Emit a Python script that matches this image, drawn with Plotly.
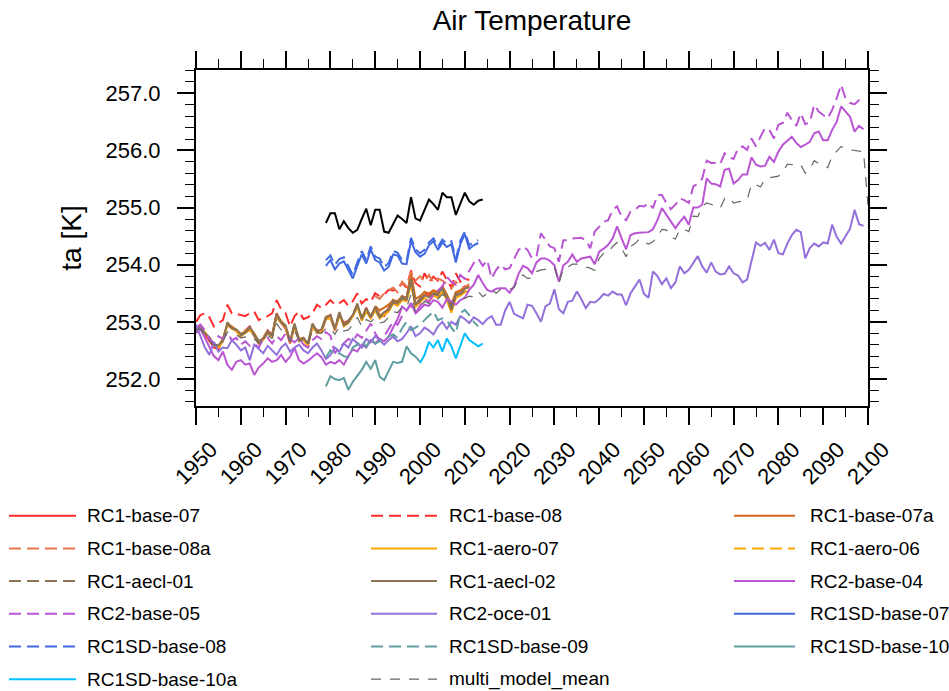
import plotly.graph_objects as go

# ---------------- data ----------------
rc1_years = list(range(1950, 2012))          # RC1 hindcast runs
rc1a_years = list(range(1990, 2012))         # RC1 "a" continuation runs
rc2_years = list(range(1950, 2100))          # RC2 projection runs
sd_years = list(range(1979, 2014))           # specified-dynamics runs
sd10_years = list(range(1979, 2001))
sd10a_years = list(range(2000, 2015))
obs_years = list(range(1979, 2015))
mmm_years = list(range(1950, 2101))

rc1_base_07 = [
    252.82, 252.92, 252.78, 252.66, 252.55, 252.52, 252.70, 252.95, 252.92, 252.84,
    252.74, 252.85, 252.92, 252.75, 252.62, 252.72, 252.85, 252.78, 253.15, 252.98,
    252.88, 252.62, 252.92, 252.70, 252.72, 252.60, 252.92, 252.86, 252.82, 253.05,
    253.12, 252.85, 253.12, 252.98, 253.02, 253.10, 253.28, 253.04, 253.25, 253.06,
    253.26, 253.12, 253.10, 253.25, 253.38, 253.30, 253.45, 253.42, 253.85, 253.28,
    253.40, 253.52, 253.45, 253.55, 253.48, 253.62, 253.45, 253.20, 253.50, 253.54,
    253.62, 253.60]
rc1_base_08 = [
    253.00, 253.12, 253.15, 253.08, 252.92, 252.98, 253.03, 253.30, 253.15, 253.14,
    253.12, 253.10, 253.15, 253.18, 253.03, 253.08, 253.10, 253.15, 253.38, 253.22,
    253.15, 252.92, 253.10, 253.18, 253.05, 253.08, 253.15, 253.30, 253.24, 253.30,
    253.38, 253.30, 253.33, 253.38, 253.28, 253.36, 253.50, 253.32, 253.40, 253.35,
    253.50, 253.45, 253.48, 253.56, 253.55, 253.58, 253.68, 253.60, 253.90, 253.68,
    253.62, 253.85, 253.70, 253.79, 253.72, 253.88, 253.73, 253.60, 253.85, 253.70,
    253.76, 253.73]
rc1_base_07a = [
    253.28, 253.20, 253.25, 253.30, 253.38, 253.36, 253.45, 253.42, 253.85, 253.40,
    253.45, 253.52, 253.50, 253.55, 253.52, 253.62, 253.48, 253.30, 253.52, 253.55,
    253.60, 253.62]
rc1_base_08a = [
    253.45, 253.40, 253.50, 253.55, 253.60, 253.52, 253.70, 253.62, 253.88, 253.72,
    253.80, 253.70, 253.82, 253.68, 253.76, 253.72, 253.66, 253.58, 253.70, 253.62,
    253.60, 253.66]
rc1_aero_07 = [
    252.84, 252.86, 252.82, 252.70, 252.62, 252.55, 252.66, 252.94, 252.88, 252.84,
    252.75, 252.80, 252.86, 252.76, 252.62, 252.68, 252.80, 252.74, 253.08, 252.98,
    252.90, 252.64, 252.92, 252.66, 252.68, 252.58, 252.92, 252.80, 252.84, 253.05,
    253.06, 252.86, 253.12, 252.92, 252.98, 253.10, 253.26, 253.02, 253.18, 253.06,
    253.20, 253.06, 253.12, 253.18, 253.32, 253.28, 253.38, 253.36, 253.66, 253.26,
    253.34, 253.42, 253.36, 253.46, 253.42, 253.52, 253.38, 253.16, 253.42, 253.46,
    253.52, 253.55]
rc1_aero_06 = [
    252.88, 252.90, 252.78, 252.72, 252.58, 252.58, 252.70, 252.98, 252.91, 252.88,
    252.78, 252.84, 252.90, 252.80, 252.66, 252.71, 252.83, 252.78, 253.13, 253.02,
    252.93, 252.67, 252.96, 252.70, 252.71, 252.63, 252.96, 252.84, 252.86, 253.09,
    253.11, 252.89, 253.16, 252.96, 253.01, 253.13, 253.31, 253.07, 253.23, 253.10,
    253.25, 253.10, 253.16, 253.23, 253.36, 253.33, 253.43, 253.41, 253.73, 253.31,
    253.39, 253.48, 253.42, 253.51, 253.48, 253.59, 253.43, 253.23, 253.48, 253.51,
    253.57, 253.60]
rc1_aecl_01 = [
    252.85, 252.88, 252.79, 252.70, 252.59, 252.56, 252.67, 252.96, 252.89, 252.85,
    252.76, 252.81, 252.88, 252.77, 252.64, 252.69, 252.81, 252.75, 253.11, 252.99,
    252.91, 252.65, 252.94, 252.67, 252.69, 252.61, 252.94, 252.82, 252.84, 253.07,
    253.09, 252.87, 253.14, 252.94, 252.99, 253.11, 253.29, 253.05, 253.21, 253.08,
    253.23, 253.08, 253.14, 253.21, 253.34, 253.31, 253.41, 253.39, 253.71, 253.29,
    253.37, 253.46, 253.40, 253.49, 253.46, 253.57, 253.41, 253.21, 253.46, 253.49,
    253.55, 253.58]
rc1_aecl_02 = [
    252.87, 252.91, 252.80, 252.73, 252.60, 252.59, 252.68, 252.99, 252.90, 252.87,
    252.79, 252.82, 252.91, 252.78, 252.67, 252.70, 252.84, 252.76, 253.14, 253.00,
    252.94, 252.66, 252.97, 252.68, 252.72, 252.62, 252.97, 252.83, 252.87, 253.08,
    253.12, 252.88, 253.17, 252.95, 253.02, 253.12, 253.32, 253.06, 253.24, 253.09,
    253.26, 253.09, 253.17, 253.22, 253.37, 253.32, 253.44, 253.40, 253.75, 253.30,
    253.40, 253.47, 253.43, 253.50, 253.49, 253.58, 253.44, 253.22, 253.49, 253.50,
    253.58, 253.61]

rc2_base_04 = [
    252.80, 252.88, 252.72, 252.55, 252.40, 252.33, 252.48, 252.25, 252.16, 252.30,
    252.33, 252.25, 252.27, 252.07, 252.20, 252.27, 252.36, 252.30, 252.33, 252.42,
    252.30, 252.39, 252.54, 252.33, 252.27, 252.32, 252.39, 252.45, 252.38, 252.25,
    252.30, 252.27, 252.33, 252.25, 252.40, 252.52, 252.48, 252.60, 252.55, 252.68,
    252.62, 252.70, 252.66, 252.74, 252.90, 253.05, 253.27, 253.20, 253.33, 253.15,
    253.22, 253.30, 253.28, 253.38, 253.35, 253.25, 253.40, 253.36, 253.30, 253.38,
    253.42, 253.56, 253.65, 253.82, 253.68, 253.56, 253.53, 253.58, 253.59, 253.59,
    253.51, 253.62, 253.84, 253.98, 253.94, 253.85, 254.04, 254.11, 254.11, 254.07,
    253.99, 253.70, 253.99, 254.05, 254.18, 254.05, 254.11, 254.13, 254.14, 254.01,
    254.23, 254.28, 254.35, 254.46, 254.67, 254.46, 254.27, 254.52, 254.55, 254.56,
    254.57, 254.57, 254.62, 254.78, 254.99, 254.87, 254.75, 254.64, 254.75, 254.84,
    254.70, 255.00, 255.00, 255.05, 255.51, 255.42, 255.41, 255.37, 255.66, 255.68,
    255.42, 255.48, 255.58, 255.58, 255.88, 255.75, 255.72, 255.73, 255.89, 255.80,
    255.98, 256.10, 256.17, 256.24, 256.13, 256.06, 256.10, 256.15, 256.30, 256.33,
    256.18, 256.18, 256.36, 256.50, 256.77, 256.68, 256.59, 256.33, 256.43, 256.37]
rc2_base_05 = [
    252.90, 252.95, 252.85, 252.70, 252.62, 252.75, 252.70, 252.80, 252.68, 252.72,
    252.60, 252.66, 252.58, 252.62, 252.55, 252.70, 252.72, 252.62, 252.75, 252.68,
    252.80, 252.70, 252.64, 252.72, 252.60, 252.55, 252.68, 252.75, 252.70, 252.82,
    252.76, 252.45, 252.55, 252.62, 252.70, 252.66, 252.78, 252.72, 252.85, 252.97,
    252.80, 252.68, 252.75, 252.88, 253.00, 252.95, 253.10, 253.20, 253.30, 253.15,
    253.28, 253.40, 253.35, 253.48, 253.55, 253.62, 253.79, 253.70, 253.65, 253.82,
    253.75, 253.90, 254.03, 254.11, 253.98, 254.08, 253.76, 253.91, 254.00, 253.92,
    253.94, 254.10, 254.26, 254.32, 254.26, 254.11, 254.14, 254.55, 254.43, 254.32,
    254.29, 254.05, 254.43, 254.43, 254.46, 254.46, 254.47, 254.43, 254.29, 254.58,
    254.67, 254.75, 254.78, 254.96, 255.02, 254.84, 254.78, 254.93, 254.96, 255.03,
    255.02, 255.08, 254.99, 255.22, 255.22, 255.08, 254.97, 255.05, 255.16, 255.13,
    255.08, 255.37, 255.42, 255.51, 255.82, 255.78, 255.78, 255.76, 255.95, 255.88,
    255.85, 256.04, 256.07, 256.01, 256.21, 256.07, 256.24, 256.39, 256.36, 256.21,
    256.45, 256.48, 256.66, 256.53, 256.43, 256.65, 256.46, 256.49, 256.80, 256.68,
    256.62, 256.56, 256.71, 256.91, 257.15, 256.91, 256.83, 256.81, 256.88, 256.90]
rc2_oce_01 = [
    252.95, 252.75, 252.55, 252.42, 252.65, 252.48, 252.55, 252.54, 252.68, 252.60,
    252.50, 252.55, 252.33, 252.60, 252.52, 252.45, 252.58, 252.50, 252.42, 252.55,
    252.62, 252.48, 252.55, 252.60, 252.50, 252.45, 252.55, 252.62, 252.50, 252.35,
    252.42, 252.55, 252.48, 252.62, 252.55, 252.70, 252.62, 252.55, 252.70, 252.64,
    252.75, 252.68, 252.60, 252.68, 252.74, 252.66, 252.70, 252.80, 252.92, 252.75,
    252.80, 252.90, 252.85, 252.78, 252.92, 253.00, 252.88, 253.00, 252.95, 253.10,
    253.05, 252.98, 253.08, 253.03, 252.96, 253.05, 253.10, 252.95, 252.95, 253.20,
    253.35, 253.14, 253.10, 253.06, 253.30, 253.28, 253.15, 253.00, 253.27, 253.32,
    253.57, 253.22, 253.15, 253.35, 253.37, 253.53, 253.40, 253.24, 253.35, 253.34,
    253.40, 253.49, 253.46, 253.53, 253.48, 253.48, 253.29, 253.50, 253.62, 253.74,
    253.49, 253.42, 253.88, 253.80, 253.66, 253.76, 253.59, 253.69, 253.97, 253.85,
    253.91, 254.02, 254.15, 253.97, 253.86, 254.04, 253.88, 253.83, 253.84, 253.97,
    253.85, 253.81, 253.69, 253.74, 254.05, 254.39, 254.33, 254.38, 254.26, 254.44,
    254.20, 254.18, 254.37, 254.52, 254.61, 254.57, 254.11, 254.29, 254.37, 254.32,
    254.39, 254.37, 254.70, 254.49, 254.37, 254.50, 254.63, 254.96, 254.71, 254.68]

rc1sd_base_07 = [
    253.98, 254.08, 253.92, 254.02, 254.06, 253.90, 253.76, 253.98, 254.18, 254.02,
    254.27, 254.08, 254.04, 253.90, 253.96, 254.18, 254.16, 254.02, 254.01, 254.42,
    254.22, 254.14, 254.19, 254.34, 254.41, 254.26, 254.39, 254.31, 254.36, 254.04,
    254.36, 254.54, 254.28, 254.34, 254.38]
rc1sd_base_08 = [
    254.08, 254.16, 254.00, 254.10, 254.13, 253.96, 253.82, 254.04, 254.24, 254.08,
    254.32, 254.14, 254.11, 253.96, 254.03, 254.24, 254.21, 254.08, 254.06, 254.47,
    254.27, 254.20, 254.26, 254.39, 254.46, 254.31, 254.44, 254.37, 254.41, 254.10,
    254.42, 254.58, 254.34, 254.39, 254.43]
rc1sd_base_09 = [
    252.38, 252.50, 252.42, 252.45, 252.40, 252.38, 252.55, 252.60, 252.68, 252.56,
    252.71, 252.62, 252.66, 252.70, 252.74, 252.78, 252.72, 252.89, 253.00, 252.86,
    252.90, 252.95, 253.03, 253.10, 253.18, 253.03, 253.06, 253.03, 252.90, 252.80,
    253.15, 253.21, 253.12, 253.00, 252.92]
rc1sd_base_10 = [
    251.87, 252.05, 252.00, 251.98, 252.02, 251.81, 251.95, 252.05, 252.16, 252.30,
    252.18, 252.33, 252.04, 251.98, 252.15, 252.30, 252.28, 252.30, 252.57, 252.45,
    252.39, 252.30]
rc1sd_base_10a = [
    252.28, 252.42, 252.65, 252.55, 252.68, 252.48, 252.71, 252.57, 252.36, 252.60,
    252.80, 252.68, 252.62, 252.57, 252.62]

obs = [
    254.73, 254.90, 254.90, 254.62, 254.76, 254.64, 254.56, 254.61, 254.80, 254.98,
    254.69, 254.96, 254.96, 254.58, 254.56, 254.70, 254.86, 254.80, 254.73, 255.18,
    254.81, 254.77, 254.95, 255.14, 255.06, 254.96, 255.26, 255.18, 255.18, 254.87,
    255.07, 255.26, 255.11, 255.05, 255.12, 255.14]

multi_model_mean = [
    252.86, 252.88, 252.76, 252.66, 252.60, 252.58, 252.66, 252.82, 252.80, 252.77,
    252.72, 252.74, 252.75, 252.70, 252.62, 252.68, 252.76, 252.71, 252.97, 252.86,
    252.83, 252.65, 252.84, 252.68, 252.70, 252.64, 252.85, 252.80, 252.80, 252.88,
    252.90, 252.78, 252.92, 252.84, 252.86, 252.95, 253.08, 252.92, 253.04, 253.00,
    253.07, 252.98, 253.00, 253.08, 253.18, 253.16, 253.26, 253.25, 253.48, 253.18,
    253.26, 253.36, 253.32, 253.40, 253.40, 253.48, 253.42, 253.30, 253.42, 253.46,
    253.41, 253.45, 253.44, 253.53, 253.44, 253.50, 253.56, 253.50, 253.57, 253.56,
    253.57, 253.60, 253.76, 253.82, 253.76, 253.77, 253.88, 253.91, 253.92, 253.91,
    253.95, 253.67, 253.94, 253.96, 254.01, 254.01, 253.98, 253.96, 253.94, 253.90,
    254.11, 254.20, 254.21, 254.32, 254.39, 254.29, 254.14, 254.32, 254.37, 254.45,
    254.40, 254.36, 254.40, 254.49, 254.62, 254.61, 254.48, 254.45, 254.62, 254.62,
    254.58, 254.85, 254.84, 255.02, 255.08, 255.06, 255.03, 254.99, 255.16, 255.18,
    255.08, 255.10, 255.12, 255.13, 255.41, 255.40, 255.36, 255.50, 255.52, 255.54,
    255.55, 255.62, 255.76, 255.75, 255.76, 255.75, 255.60, 255.67, 255.82, 255.77,
    255.73, 255.70, 255.90, 255.98, 256.07, 256.02, 256.01, 256.01, 255.99, 255.98,
    255.05]

y_tick_vals = [252.0, 253.0, 254.0, 255.0, 256.0, 257.0]
x_tick_vals = list(range(1950, 2101, 10))

# (name, years, values, colour, dash, width)
series = [
    ("RC1-base-07", rc1_years, rc1_base_07, "#ff2a2a", "solid", 2),
    ("RC1-base-08", rc1_years, rc1_base_08, "#ff2a2a", "12px,6px", 2),
    ("RC1-base-07a", rc1a_years, rc1_base_07a, "#d2691e", "solid", 2),
    ("RC1-base-08a", rc1a_years, rc1_base_08a, "#e8744c", "12px,6px", 2),
    ("RC1-aero-07", rc1_years, rc1_aero_07, "#ffa500", "solid", 2),
    ("RC1-aero-06", rc1_years, rc1_aero_06, "#ffa500", "12px,6px", 2),
    ("RC1-aecl-01", rc1_years, rc1_aecl_01, "#8b7355", "12px,6px", 2),
    ("RC1-aecl-02", rc1_years, rc1_aecl_02, "#8b7355", "solid", 2),
    ("RC2-base-04", rc2_years, rc2_base_04, "#ba55d3", "solid", 2),
    ("RC2-base-05", rc2_years, rc2_base_05, "#ba55d3", "12px,6px", 2),
    ("RC2-oce-01", rc2_years, rc2_oce_01, "#9370db", "solid", 2),
    ("RC1SD-base-07", sd_years, rc1sd_base_07, "#4169e1", "solid", 2),
    ("RC1SD-base-08", sd_years, rc1sd_base_08, "#4169e1", "12px,6px", 2),
    ("RC1SD-base-09", sd_years, rc1sd_base_09, "#5f9ea0", "12px,6px", 2),
    ("RC1SD-base-10", sd10_years, rc1sd_base_10, "#5f9ea0", "solid", 2),
    ("RC1SD-base-10a", sd10a_years, rc1sd_base_10a, "#00bfff", "solid", 2),
    ("multi_model_mean", mmm_years, multi_model_mean, "#666666", "10px,9px", 1.2),
]

for name, yrs, vals, *_ in series:
    assert len(yrs) == len(vals), name
assert len(obs_years) == len(obs)

FONT = "Liberation Sans, Arial, Helvetica, sans-serif"
W, H = 949, 691
ML, MR, MT, MB = 196, 81, 70, 285
PW, PH = W - ML - MR, H - MT - MB

fig = go.Figure()
for name, yrs, vals, col, dash, lw in series:
    fig.add_trace(go.Scatter(x=yrs, y=vals, mode="lines", name=name,
                             line=dict(color=col, dash=dash, width=lw),
                             showlegend=False))
fig.add_trace(go.Scatter(x=obs_years, y=obs, mode="lines", name="obs",
                         line=dict(color="black", width=2), showlegend=False))


def px_x(px):
    return (px - ML) / PW


def px_y(py):
    return (H - MB - py) / PH


# legend in three columns below the axes
col_lines = [(9, 76), (371, 437), (734, 795)]
col_text = [85, 447, 808]
row_y = [515.7, 548.4, 581.1, 613.8, 646.5, 679.2]
shapes, annotations = [], []
for i, (name, _, _, col, dash, lw) in enumerate(series):
    r, c = divmod(i, 3)
    yy = px_y(row_y[r])
    shapes.append(dict(type="line", xref="paper", yref="paper",
                       x0=px_x(col_lines[c][0]), x1=px_x(col_lines[c][1]),
                       y0=yy, y1=yy, line=dict(color=col, dash=dash, width=lw)))
    annotations.append(dict(text=name, xref="paper", yref="paper",
                            x=px_x(col_text[c]), y=yy, xanchor="left",
                            yanchor="middle", showarrow=False,
                            font=dict(family=FONT, size=19, color="black")))

axis_common = dict(showline=True, linecolor="black", linewidth=2, mirror="allticks",
                   ticks="outside", ticklen=17, tickwidth=1.5, tickcolor="black",
                   showgrid=False, zeroline=False,
                   tickfont=dict(family=FONT, size=22, color="black"))

fig.update_layout(
    width=W, height=H,
    margin=dict(l=ML, r=MR, t=MT, b=MB),
    paper_bgcolor="white", plot_bgcolor="white",
    title=dict(text="Air Temperature", x=0.5, xref="paper", xanchor="center",
               y=1 - 20 / H, yref="container", yanchor="middle",
               font=dict(family=FONT, size=28, color="black")),
    xaxis=dict(range=[1950, 2100], tickvals=x_tick_vals, tickangle=-45,
               minor=dict(dtick=5, tick0=1950, ticks="outside", ticklen=9,
                          tickwidth=1.2, tickcolor="black"),
               ticklabelstandoff=3, ticklabelshift=15, **axis_common),
    yaxis=dict(range=[251.527, 257.408], tickvals=y_tick_vals, tickformat=".1f",
               minor=dict(dtick=0.2, tick0=252, ticks="outside", ticklen=9,
                          tickwidth=1.2, tickcolor="black"),
               ticklabelstandoff=12,
               title=dict(text="ta [K]", standoff=16,
                          font=dict(family=FONT, size=28, color="black")),
               **axis_common),
    shapes=shapes, annotations=annotations,
)

fig.write_html("out.html")
